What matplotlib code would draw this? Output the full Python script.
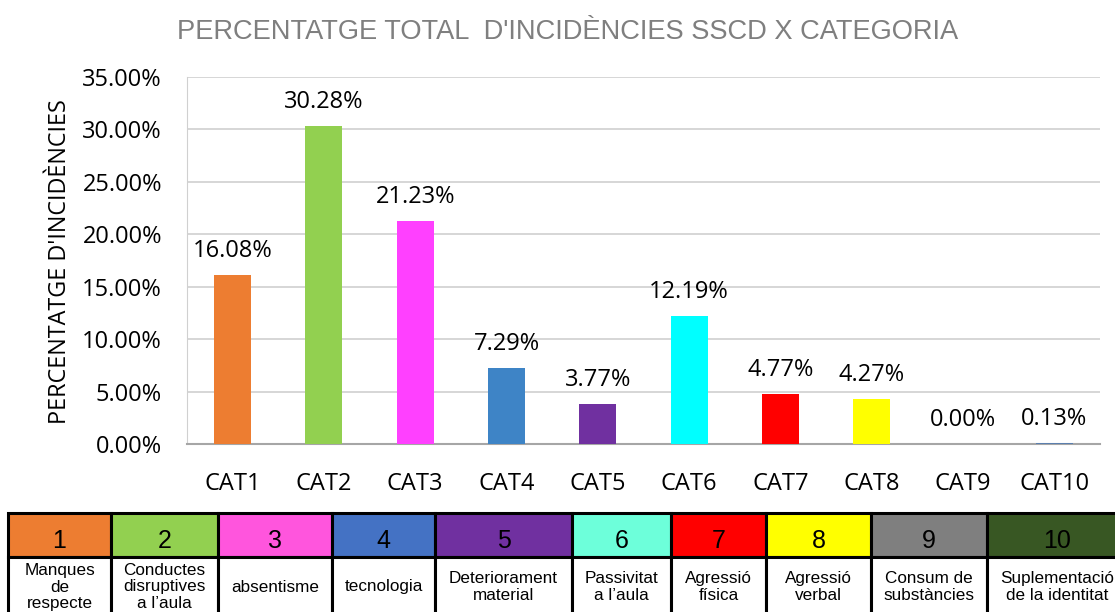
import numpy as np
import matplotlib.pyplot as plt
from matplotlib.patches import Rectangle

# Data
categories = ['CAT1', 'CAT2', 'CAT3', 'CAT4', 'CAT5', 'CAT6', 'CAT7', 'CAT8', 'CAT9', 'CAT10']
values = [16.08, 30.28, 21.23, 7.29, 3.77, 12.19, 4.77, 4.27, 0.00, 0.13]
bar_colors = ['#ED7D31', '#92D050', '#FF40FF', '#3E84C6', '#7030A0',
              '#00FFFF', '#FF0000', '#FFFF00', '#A5A5A5', '#5B7FAE']
yticks = [0, 5, 10, 15, 20, 25, 30, 35]

# Legend table
table_numbers = ['1', '2', '3', '4', '5', '6', '7', '8', '9', '10']
table_labels = ['Manques\nde\nrespecte', 'Conductes\ndisruptives\na l\u2019aula', 'absentisme',
                'tecnologia', 'Deteriorament\nmaterial', 'Passivitat\na l\u2019aula',
                'Agressió\nfísica', 'Agressió\nverbal', 'Consum de\nsubstàncies',
                'Suplementació\nde la identitat']
header_colors = ['#ED7D31', '#92D050', '#FF55DD', '#4472C4', '#7030A0',
                 '#6DFFDA', '#FF0000', '#FFFF00', '#7F7F7F', '#385723']

W, H = 1115, 612
fig = plt.figure(figsize=(W / 100, H / 100), dpi=100)

# Chart axes (pixel layout)
ax_l, ax_r, ax_t, ax_b = 187, 1100, 77, 444
ax = fig.add_axes([ax_l / W, 1 - ax_b / H, (ax_r - ax_l) / W, (ax_b - ax_t) / H])

x = np.arange(len(categories))
ax.bar(x, values, width=0.405, color=bar_colors, zorder=3)
for xi, v in zip(x, values):
    ax.annotate(f'{v:.2f}%', (xi, v), xytext=(0, 13), textcoords='offset points',
                ha='center', va='baseline', fontsize=17, family='Open Sans')

ax.set_xlim(-0.5, len(categories) - 0.5)
ax.set_ylim(0, 35)
ax.set_yticks(yticks)
ax.set_yticklabels([f'{t:.2f}%' for t in yticks], family='Open Sans', fontsize=17)
ax.set_xticks(x)
ax.set_xticklabels(categories, family='Open Sans', fontsize=17)
ax.tick_params(axis='both', length=0)
ax.tick_params(axis='y', pad=18)
ax.tick_params(axis='x', pad=20)
ax.yaxis.grid(True, color='#D0D0D0', lw=1.2, zorder=0)
for s in ['top', 'right']:
    ax.spines[s].set_visible(False)
ax.spines['left'].set_color('#D0D0D0')
ax.spines['bottom'].set_color('#A6A6A6')
ax.spines['bottom'].set_linewidth(1.5)

fig.text(60 / W, 1 - 262 / H, "PERCENTATGE D'INCIDÈNCIES", rotation=90,
         ha='center', va='center', fontsize=16.8, family='Open Sans')
fig.text(568 / W, 1 - 32 / H, "PERCENTATGE TOTAL  D'INCIDÈNCIES SSCD X CATEGORIA",
         ha='center', va='center', fontsize=19.6, color='#7F7F7F',
         family=['Liberation Sans Narrow', 'Liberation Sans'])

# Table drawn in pixel coordinates
tab = fig.add_axes([0, 0, 1, 1])
tab.set_xlim(0, W)
tab.set_ylim(H, 0)
tab.axis('off')
col_edges = [8, 111, 218, 332, 435, 572, 671, 766, 871, 987, 1127]
row_top, row_mid, row_bot = 513, 557, 618
for i in range(len(table_numbers)):
    x0, x1 = col_edges[i], col_edges[i + 1]
    tab.add_patch(Rectangle((x0, row_top), x1 - x0, row_mid - row_top,
                            facecolor=header_colors[i], edgecolor='black', lw=2.2))
    tab.add_patch(Rectangle((x0, row_mid), x1 - x0, row_bot - row_mid,
                            facecolor='white', edgecolor='black', lw=2.2))
    tab.text((x0 + x1) / 2, 541, table_numbers[i], ha='center', va='center',
             fontsize=18, family='Liberation Sans')
    tab.text((x0 + x1) / 2, 587, table_labels[i], ha='center', va='center',
             fontsize=12.3, family='Liberation Sans', linespacing=1.15)

fig.savefig('out.png', dpi=100)
